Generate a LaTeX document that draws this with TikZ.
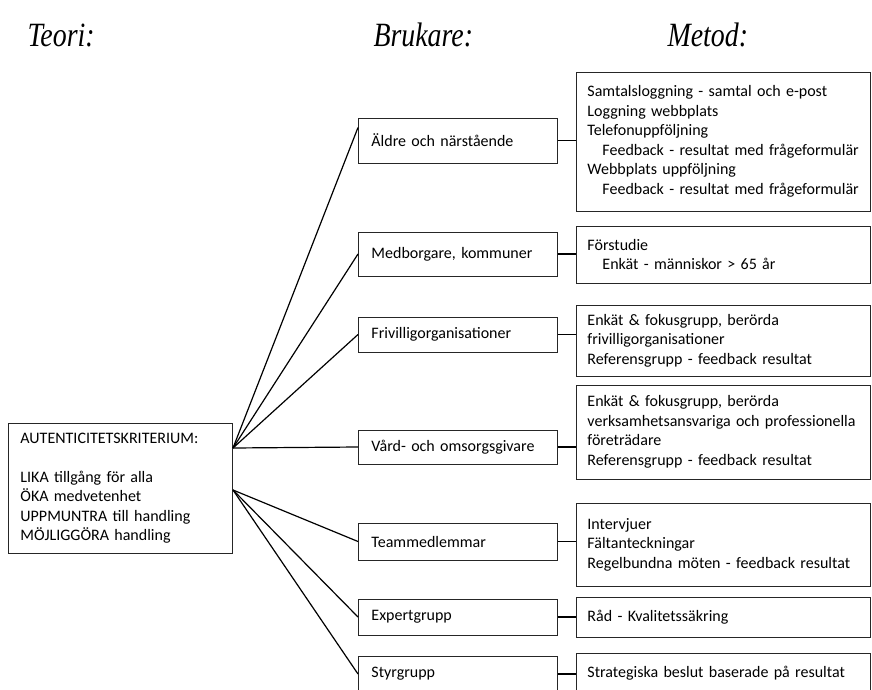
\documentclass[tikz,border=0pt]{standalone}
\usepackage{graphicx}
\usepackage{fontspec}
\setmainfont{Carlito}
\newfontfamily\titlefont{Liberation Serif}
\newcommand{\narrow}[1]{\scalebox{0.82}[1]{#1}}

\begin{document}
\begin{tikzpicture}[x=1pt,y=1pt]
	\tikzset{every node/.style={font=\fontsize{16}{19.5}\selectfont}}
	\tikzset{box/.style={draw=black!85,line width=0.9pt,anchor=west,align=left,inner ysep=0pt}}
	\tikzset{userbox/.style={box,text width=173pt,inner xsep=13pt,minimum height=36pt}}
	\tikzset{methodbox/.style={box,text width=272pt,inner xsep=11pt}}
	\tikzset{title/.style={anchor=base west,font=\titlefont\itshape\fontsize{34}{40}\selectfont}}
	\tikzset{link/.style={line width=1.2pt}}
	\useasboundingbox (0,0) rectangle (872,-690);
	\clip (0,0) rectangle (872,-690);
	% headings
	\node[title] (teorihead) at (24,-47) {\narrow{Teori:}};
	\node[title] (brukarehead) at (370,-47) {\narrow{Brukare:}};
	\node[title] (metodhead) at (664,-47) {\narrow{Metod:}};
	% theory
	\node[box,text width=200pt,inner xsep=12pt,minimum height=130pt] (teori) at (8,-488)
		{AUTENTICITETSKRITERIUM:\\[19.5pt] LIKA tillgång för alla\\ ÖKA medvetenhet\\ UPPMUNTRA till handling\\ MÖJLIGGÖRA handling};
	% users
	\node[userbox,minimum height=45pt] (aldre) at (358,-140.5) {Äldre och närstående};
	\node[userbox,minimum height=44pt] (medborgare) at (358,-254) {Medborgare, kommuner};
	\node[userbox,minimum height=35pt] (frivillig) at (358,-334.5) {Frivilligorganisationer};
	\node[userbox,minimum height=34pt] (vard) at (358,-447) {Vård- och omsorgsgivare};
	\node[userbox,minimum height=37pt] (team) at (358,-541.5) {Teammedlemmar};
	\node[userbox] (expert) at (358,-617) {Expertgrupp};
	\node[userbox] (styr) at (358,-674) {Styrgrupp};
	% methods
	\node[methodbox,minimum height=139pt] (samtal) at (576,-141.5)
		{Samtalsloggning - samtal och e-post\\ Loggning webbplats\\ Telefonuppföljning\\
		\mbox{\hspace*{15pt}Feedback - resultat med frågeformulär}\\ Webbplats uppföljning\\
		\mbox{\hspace*{15pt}Feedback - resultat med frågeformulär}};
	\node[methodbox,minimum height=57pt] (forstudie) at (576,-254.5)
		{Förstudie\\ \hspace*{15pt}Enkät - människor > 65 år};
	\node[methodbox,minimum height=71pt] (enkat) at (576,-340.5)
		{Enkät \& fokusgrupp, berörda\\ frivilligorganisationer\\ Referensgrupp - feedback resultat};
	\node[methodbox,minimum height=94pt] (enkatvard) at (576,-432)
		{Enkät \& fokusgrupp, berörda\\ \mbox{verksamhetsansvariga och professionella}\\ företrädare\\ Referensgrupp - feedback resultat};
	\node[methodbox,minimum height=83pt] (intervju) at (576,-544.5)
		{Intervjuer\\ Fältanteckningar\\ Regelbundna möten - feedback resultat};
	\node[methodbox,minimum height=40pt] (rad) at (576,-617) {Råd - Kvalitetssäkring};
	\node[methodbox,minimum height=40pt] (beslut) at (576,-673) {Strategiska beslut baserade på resultat};
	% connectors
	\coordinate (upper) at (233,-448);
	\coordinate (lower) at (233,-490);
	\draw[link] (upper) -- ([yshift=13pt]aldre.west);
	\foreach \u in {medborgare,frivillig,vard}
		\draw[link] (upper) -- (\u.west);
	\foreach \u in {team,expert,styr}
		\draw[link] (lower) -- (\u.west);
	\foreach \u/\m in {aldre/samtal,medborgare/forstudie,frivillig/enkat,vard/enkatvard,team/intervju,expert/rad,styr/beslut}
		\draw[link] (\u.east) -- (\u.east -| \m.west);
\end{tikzpicture}
\end{document}
